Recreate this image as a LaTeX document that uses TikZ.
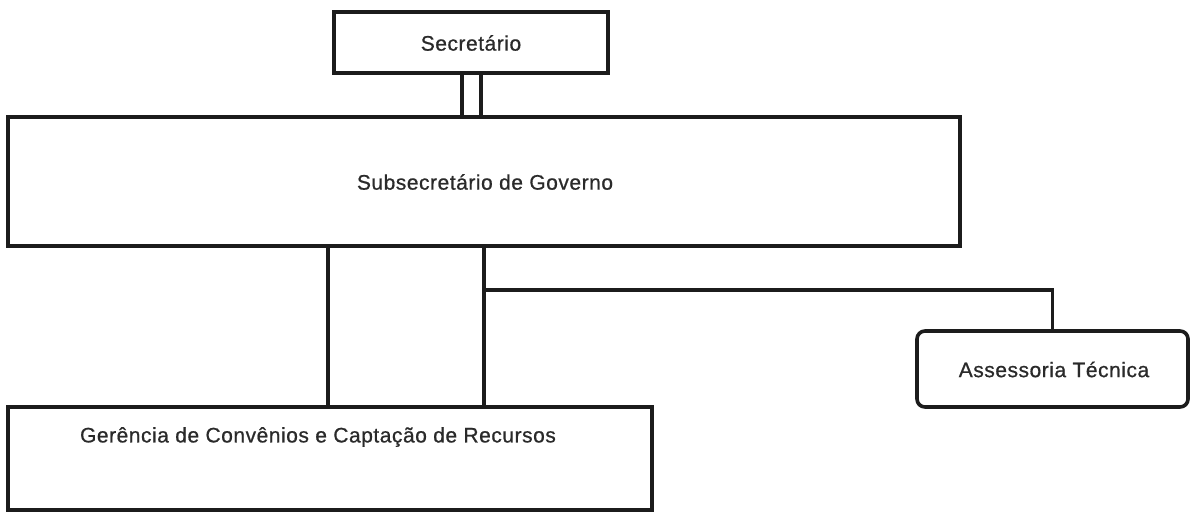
\documentclass[tikz,border=0pt]{standalone}
\usepackage{fontspec}
\setmainfont{Liberation Sans}
\newfontfamily\lblfont{Liberation Sans}[FakeBold=0.7, LetterSpace=2.5]
\definecolor{ink}{HTML}{1C1C1C}
\definecolor{txt}{HTML}{2A2A2A}
\begin{document}
\begin{tikzpicture}[x=1pt,y=-1pt,
  box/.style={draw=ink, line width=3.6pt, fill=white, inner sep=0pt},
  rbox/.style={box, rounded corners=8pt},
  lbl/.style={font=\lblfont\fontsize{21}{24}\selectfont, text=txt, inner sep=0pt},
  conn/.style={draw=ink, line width=3.6pt}]
\useasboundingbox (0,0) rectangle (1190,512);
% boxes
\node[box, minimum width=274pt, minimum height=61pt] (sec) at (471,42.5) {};
\node[lbl] (sectxt) at (471,43) {Secretário};
\node[box, minimum width=952pt, minimum height=129pt] (sub) at (484,181.5) {};
\node[lbl] (subtxt) at (485,182) {Subsecretário de Governo};
\node[box, minimum width=644pt, minimum height=103pt] (ger) at (330,458.5) {};
\node[lbl] (gertxt) at (318,437) {Gerência de Convênios e Captação de Recursos};
\node[rbox, minimum width=271pt, minimum height=76pt] (ass) at (1052.5,369) {};
\node[lbl] (asstxt) at (1054,369.5) {Assessoria Técnica};
% connectors
\coordinate (s1) at (462,0);
\coordinate (s2) at (481,0);
\draw[conn] (sec.south -| s1) -- (sub.north -| s1);
\draw[conn] (sec.south -| s2) -- (sub.north -| s2);
\coordinate (g1) at (328,0);
\coordinate (g2) at (484,0);
\draw[conn] (sub.south -| g1) -- (ger.north -| g1);
\draw[conn] (sub.south -| g2) -- (ger.north -| g2);
\coordinate (br) at (484,290);
\draw[conn] (br) -- (br -| ass.north) -- (ass.north);
\end{tikzpicture}
\end{document}
